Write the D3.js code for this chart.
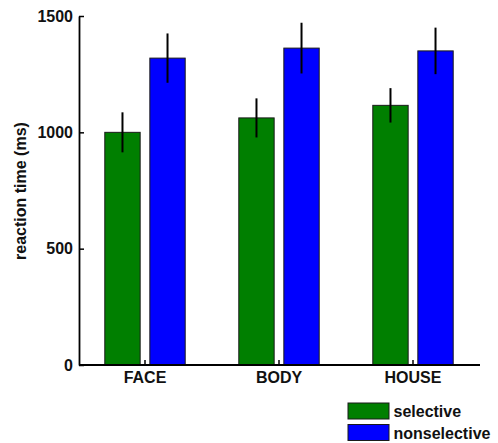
<!DOCTYPE html>
<html>
<head>
<meta charset="utf-8">
<script src="https://cdn.jsdelivr.net/npm/d3@7/dist/d3.min.js"></script>
<style>
  html, body { margin: 0; padding: 0; background: #fff; }
  svg { display: block; }
  text { font-family: "Liberation Sans", Arial, Helvetica, sans-serif; font-weight: bold; fill: #111; }
</style>
</head>
<body>
<svg id="chart" width="498" height="443"></svg>
<script>
// Mean reaction times (ms) and their error half-widths, per stimulus category
const categories = ["FACE", "BODY", "HOUSE"];
const seriesNames = ["selective", "nonselective"];
const selectiveRT = [1000, 1062, 1116];
const selectiveErr = [86, 84, 74];
const nonselectiveRT = [1319, 1362, 1350];
const nonselectiveErr = [106, 109, 100];
const yTicks = [0, 500, 1000, 1500];
const seriesColors = ["#007f00", "#0000ff"];

const series = [
  { name: seriesNames[0], values: selectiveRT, errors: selectiveErr, color: seriesColors[0] },
  { name: seriesNames[1], values: nonselectiveRT, errors: nonselectiveErr, color: seriesColors[1] }
];

const svg = d3.select("#chart");

const x = d3.scaleBand().domain(categories).range([78, 480]).padding(0);
const xInner = d3.scaleBand().domain(seriesNames).range([-40.2, 40.2]).paddingInner(0.215);
const y = d3.scaleLinear().domain([0, 1500]).range([365, 16]);

// Bars
const groups = svg.append("g").selectAll("g")
  .data(categories)
  .join("g")
  .attr("transform", c => `translate(${x(c) + x.bandwidth() / 2},0)`);

series.forEach(s => {
  groups.append("rect")
    .attr("x", xInner(s.name))
    .attr("width", xInner.bandwidth())
    .attr("y", (c, i) => y(s.values[i]))
    .attr("height", (c, i) => y(0) - y(s.values[i]))
    .attr("fill", s.color)
    .attr("stroke", "#1a1a1a")
    .attr("stroke-width", 1);

  groups.append("line")
    .attr("x1", xInner(s.name) + xInner.bandwidth() / 2)
    .attr("x2", xInner(s.name) + xInner.bandwidth() / 2)
    .attr("y1", (c, i) => y(s.values[i] + s.errors[i]))
    .attr("y2", (c, i) => y(s.values[i] - s.errors[i]))
    .attr("stroke", "#000")
    .attr("stroke-width", 2);
});

// Axes with inward ticks
const yAxis = svg.append("g")
  .attr("transform", "translate(79,0)")
  .call(d3.axisLeft(y).tickValues(yTicks).tickSizeInner(-5).tickSizeOuter(0).tickPadding(6).tickFormat(d3.format("d")));

const xAxis = svg.append("g")
  .attr("transform", "translate(0,365)")
  .call(d3.axisBottom(x).tickSizeInner(-5).tickSizeOuter(0).tickPadding(7));

[yAxis, xAxis].forEach(a => {
  a.select(".domain").attr("stroke", "#000").attr("stroke-width", 1.8);
  a.selectAll(".tick line").attr("stroke", "#000").attr("stroke-width", 1.5);
  a.selectAll("text").attr("font-size", 16).attr("fill", "#111")
    .attr("font-family", "'Liberation Sans', Arial, sans-serif").attr("font-weight", "bold");
});
xAxis.select(".domain").attr("d", "M79,0H480");

// Y axis title
svg.append("text")
  .attr("transform", "translate(26,191) rotate(-90)")
  .attr("text-anchor", "middle")
  .attr("font-size", 16)
  .text("reaction time (ms)");

// Legend
const legend = svg.append("g").attr("transform", "translate(348,403)");
series.forEach((s, i) => {
  const row = legend.append("g").attr("transform", `translate(0,${i * 21.5})`);
  row.append("rect")
    .attr("width", 41)
    .attr("height", 16)
    .attr("fill", s.color)
    .attr("stroke", "#1a1a1a")
    .attr("stroke-width", 1);
  row.append("text")
    .attr("x", 45.5)
    .attr("y", 14)
    .attr("font-size", 16)
    .text(s.name);
});
</script>
</body>
</html>
